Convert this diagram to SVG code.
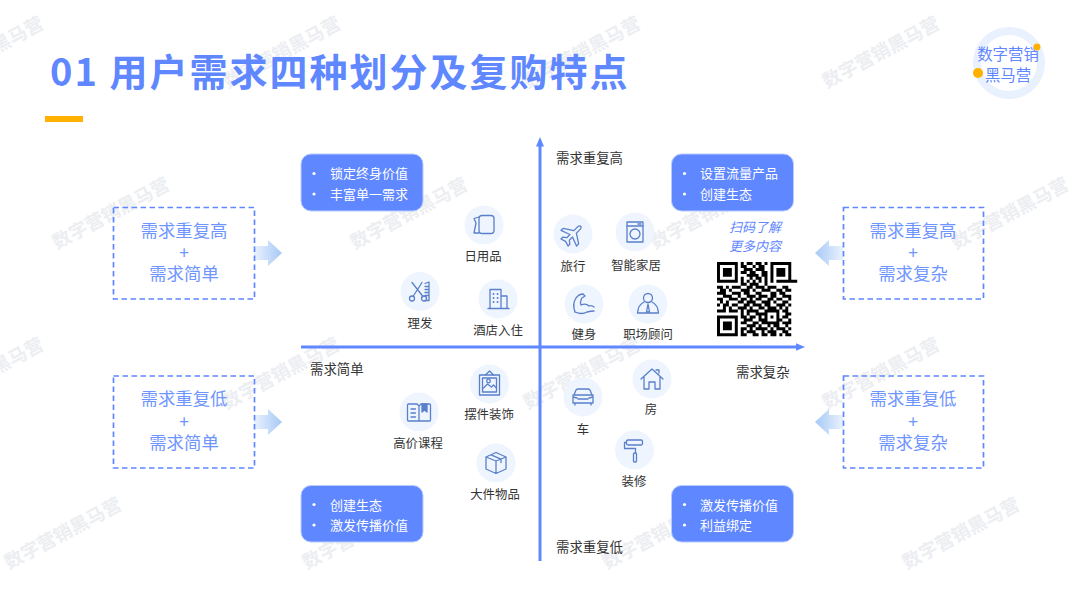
<svg xmlns="http://www.w3.org/2000/svg" width="1080" height="608" viewBox="0 0 1080 608">
<style>
text{font-family:"Noto Sans CJK SC","Noto Sans",sans-serif}
.wm{font-size:18.500px;font-weight:700;fill:#eceef2;text-anchor:middle}
.title{font-size:38px;font-weight:700;fill:#5f87ff;letter-spacing:2px}
.dash{fill:none;stroke:#5f87ff;stroke-width:1.700;stroke-dasharray:5.500 3.500}
.dt{font-size:17.400px;fill:#6f95ff;text-anchor:middle}
.blue{fill:#5f87ff;stroke:#b9ccff;stroke-width:1}
.bt{font-size:13px;fill:#fff}
.lab{font-size:12.400px;fill:#333;text-anchor:middle}
.ax{font-size:13.400px;fill:#333}
.cir{fill:#eff5fe}
.ic{fill:none;stroke:#5a7fcb;stroke-width:1.300;stroke-linecap:round;stroke-linejoin:round}
.axis{stroke:#5f87ff;stroke-width:3;fill:none}
</style>
<defs>
<marker id="head" markerUnits="userSpaceOnUse" markerWidth="10" markerHeight="9" refX="0.5" refY="4.5" orient="auto"><path d="M0 0.5L9.500 4.500L0 8.500z" fill="#5f87ff"/></marker>
<linearGradient id="gr" x1="0" x2="1" y1="0" y2="0"><stop offset="0" stop-color="#eaf2fe"/><stop offset="1" stop-color="#a6c9f6"/></linearGradient>
<linearGradient id="gl" x1="1" x2="0" y1="0" y2="0"><stop offset="0" stop-color="#eaf2fe"/><stop offset="1" stop-color="#a6c9f6"/></linearGradient>
</defs>
<rect width="1080" height="608" fill="#fff"/>
<g id="watermarks">
<text class="wm" transform="translate(-12 58) rotate(-28)">数字营销黑马营</text>
<text class="wm" transform="translate(285 58) rotate(-28)">数字营销黑马营</text>
<text class="wm" transform="translate(585 58) rotate(-28)">数字营销黑马营</text>
<text class="wm" transform="translate(884 58) rotate(-28)">数字营销黑马营</text>
<text class="wm" transform="translate(114 219) rotate(-28)">数字营销黑马营</text>
<text class="wm" transform="translate(412 219) rotate(-28)">数字营销黑马营</text>
<text class="wm" transform="translate(712 219) rotate(-28)">数字营销黑马营</text>
<text class="wm" transform="translate(1013 219) rotate(-28)">数字营销黑马营</text>
<text class="wm" transform="translate(-12 379) rotate(-28)">数字营销黑马营</text>
<text class="wm" transform="translate(284 379) rotate(-28)">数字营销黑马营</text>
<text class="wm" transform="translate(585 379) rotate(-28)">数字营销黑马营</text>
<text class="wm" transform="translate(884 379) rotate(-28)">数字营销黑马营</text>
<text class="wm" transform="translate(66 539) rotate(-28)">数字营销黑马营</text>
<text class="wm" transform="translate(364 539) rotate(-28)">数字营销黑马营</text>
<text class="wm" transform="translate(664 539) rotate(-28)">数字营销黑马营</text>
<text class="wm" transform="translate(964 539) rotate(-28)">数字营销黑马营</text>
</g>
<g id="header">
<text class="title" x="50" y="86">01 用户需求四种划分及复购特点</text>
<rect x="45" y="116" width="38" height="6" fill="#ffb000"/>
</g>
<g id="logo">
<circle cx="1009" cy="63" r="32" fill="#fff" stroke="#e9f1fe" stroke-width="8"/>
<text x="1008" y="60" font-size="15.400" fill="#5f87ff" text-anchor="middle">数字营销</text>
<text x="1008" y="81" font-size="15.400" fill="#5f87ff" text-anchor="middle">黑马营</text>
<circle cx="978" cy="73" r="5" fill="#ffb000"/>
<circle cx="1037" cy="47" r="3.400" fill="#ffb000"/>
</g>
<g id="connectors">
<line class="axis" x1="540" y1="561" x2="540" y2="146" marker-end="url(#head)"/>
<line class="axis" x1="301" y1="347" x2="796" y2="347" marker-end="url(#head)"/>
<path d="M254 246H268V240L282 253L268 266V260H254z" fill="url(#gr)"/>
<path d="M254 415H268V409L282 422L268 435V429H254z" fill="url(#gr)"/>
<path d="M843 246H829V240L815 253L829 266V260H843z" fill="url(#gl)"/>
<path d="M843 415H829V409L815 422L829 435V429H843z" fill="url(#gl)"/>
</g>
<g id="req-high-simple"><rect class="dash" x="113.500" y="207.500" width="141" height="91.500"/><text class="dt" x="184" y="237">需求重复高</text><text class="dt" x="184" y="259">+</text><text class="dt" x="184" y="280">需求简单</text></g>
<g id="req-low-simple"><rect class="dash" x="113.500" y="376" width="141" height="92"/><text class="dt" x="184" y="405">需求重复低</text><text class="dt" x="184" y="428">+</text><text class="dt" x="184" y="449">需求简单</text></g>
<g id="req-high-complex"><rect class="dash" x="843.500" y="207.500" width="140" height="91.500"/><text class="dt" x="913" y="237">需求重复高</text><text class="dt" x="913" y="259">+</text><text class="dt" x="913" y="280">需求复杂</text></g>
<g id="req-low-complex"><rect class="dash" x="843.500" y="376" width="140" height="92"/><text class="dt" x="913" y="405">需求重复低</text><text class="dt" x="913" y="428">+</text><text class="dt" x="913" y="449">需求复杂</text></g>
<g id="box-tl"><rect class="blue" x="301" y="154" width="122" height="57" rx="10"/><circle cx="314" cy="173.500" r="1.600" fill="#fff"/><circle cx="314" cy="194" r="1.600" fill="#fff"/><text class="bt" x="330" y="178">锁定终身价值</text><text class="bt" x="330" y="199">丰富单一需求</text></g>
<g id="box-tr"><rect class="blue" x="671.500" y="154" width="122" height="57" rx="10"/><circle cx="684.500" cy="173.500" r="1.600" fill="#fff"/><circle cx="684.500" cy="194" r="1.600" fill="#fff"/><text class="bt" x="700" y="178">设置流量产品</text><text class="bt" x="700" y="199">创建生态</text></g>
<g id="box-bl"><rect class="blue" x="301" y="485.500" width="122" height="56.500" rx="10"/><circle cx="314" cy="504.500" r="1.600" fill="#fff"/><circle cx="314" cy="525" r="1.600" fill="#fff"/><text class="bt" x="330" y="509.500">创建生态</text><text class="bt" x="330" y="530">激发传播价值</text></g>
<g id="box-br"><rect class="blue" x="671.500" y="485.500" width="122" height="56.500" rx="10"/><circle cx="684.500" cy="504.500" r="1.600" fill="#fff"/><circle cx="684.500" cy="525" r="1.600" fill="#fff"/><text class="bt" x="700" y="509.500">激发传播价值</text><text class="bt" x="700" y="530">利益绑定</text></g>
<g id="axis-labels">
<text class="ax" x="556" y="163">需求重复高</text>
<text class="ax" x="310" y="374">需求简单</text>
<text class="ax" x="736" y="377">需求复杂</text>
<text class="ax" x="556" y="552">需求重复低</text>
</g>
<g id="item-daily"><circle class="cir" cx="484" cy="225" r="19.500"/><g class="ic" transform="translate(484 225)"><rect x="-5" y="-9.500" width="15" height="18" rx="3"/><path d="M-5 -8L-10 -6.500L-8 -2L-10 8H-5"/></g><text class="lab" x="483" y="260.500">日用品</text></g>
<g id="item-hair"><circle class="cir" cx="420" cy="291.500" r="19.500"/><g class="ic" transform="translate(420 291.500)" stroke-width="1.500"><path d="M-8 -9L3 5M2 -9L-7 5"/><circle cx="-8" cy="7" r="2.500"/><circle cx="4" cy="7" r="2.500"/><path d="M5 -8L9 -9.500V9H5M5 -5H9M5 -2H9M5 1H9M5 4H9"/></g><text class="lab" x="420" y="327.500">理发</text></g>
<g id="item-hotel"><circle class="cir" cx="498" cy="299" r="19.500"/><g class="ic" transform="translate(498 299)"><path d="M-10 9.500H11M-8 9.500V-9.500H3V9.500M3 -3H9V9.500"/><path d="M-4.500 -5h.1M-.5 -5h.1M-4.500 -1h.1M-.5 -1h.1M-4.500 3h.1M-.5 3h.1" stroke-width="1.800"/></g><text class="lab" x="498" y="334.500">酒店入住</text></g>
<g id="item-travel"><circle class="cir" cx="573" cy="234" r="19.500"/><g class="ic" transform="translate(573 234) rotate(45)"><path d="M-1.800 -9Q0 -13 1.800 -9V-3L11 3V6L1.800 2.500V7L5 9.500V12L0 10.500L-5 12V9.500L-1.800 7V2.500L-11 6V3L-1.800 -3z"/></g><text class="lab" x="573" y="270.500">旅行</text></g>
<g id="item-smart"><circle class="cir" cx="635" cy="232" r="19.500"/><g class="ic" transform="translate(635 232)" stroke-width="1.500"><rect x="-8" y="-10" width="16" height="20"/><path d="M-8 -6H8M3 -8H6"/><circle cx="0" cy="2" r="5"/></g><text class="lab" x="636" y="269.500">智能家居</text></g>
<g id="item-fitness"><circle class="cir" cx="584" cy="304" r="19.500"/><g class="ic" transform="translate(584 304)"><path d="M-9 8Q-12 0 -8 -6Q-5 -10 -1 -10L1 -8L-2 -6L-3 -4Q-4 -1 -3 1Q2 -1 5 2Q8 1 10 3"/><path d="M-9 8Q-2 11 3 8Q7 7 10 7"/></g><text class="lab" x="584" y="338.500">健身</text></g>
<g id="item-career"><circle class="cir" cx="648" cy="304" r="19.500"/><g class="ic" transform="translate(648 304)"><circle cx="0" cy="-6" r="4.500"/><path d="M-4 -2Q-10 1 -10.500 9H10.500Q10 1 4 -2"/><path d="M0 0L-1.500 8H1.500z"/></g><text class="lab" x="648" y="338.500">职场顾问</text></g>
<g id="item-course"><circle class="cir" cx="419" cy="412" r="19.500"/><g class="ic" transform="translate(419 412)" stroke-width="1.500"><path d="M0 9H-10.500Q-11.500 9 -11.500 8V-7Q-11.500 -8 -10.500 -8H-2L0 -6L2 -8H10.500Q11.500 -8 11.500 -7V8Q11.500 9 10.500 9H0V-6"/><path d="M-8 -3H-3.500M-8 1H-3.500M-8 5H-3.500"/><path d="M3 -8V0L5.500 -2L8 0V-8z" fill="#5a7fcb"/></g><text class="lab" x="418" y="447.500">高价课程</text></g>
<g id="item-decor"><circle class="cir" cx="489.500" cy="384" r="19.500"/><g class="ic" transform="translate(489.500 384)" stroke-width="1.100"><rect x="-10" y="-9" width="20" height="20"/><rect x="-7" y="-6" width="14" height="14"/><path d="M-6 4L-2 0L2 3L4 1L7 4M-4 -9L0 -13L4 -9"/><circle cx="-1" cy="-3" r="1.800"/></g><text class="lab" x="489" y="418.500">摆件装饰</text></g>
<g id="item-large"><circle class="cir" cx="496" cy="463" r="19.500"/><g class="ic" transform="translate(496 463)" stroke-width="1.500"><path d="M0 -10.500L10 -6V6L0 10.500L-10 6V-6zM-10 -6L0 -2L10 -6M0 -2V10.500M-5 -8.200L5 -3.800V-.5"/></g><text class="lab" x="495" y="498.500">大件物品</text></g>
<g id="item-house"><circle class="cir" cx="652" cy="379" r="19.500"/><g class="ic" transform="translate(652 379)" stroke-width="1.500"><path d="M-11 0L0 -10L11 0M-8 -2V10H-3V3H3V10H8V-2M7 -6V-9H4"/></g><text class="lab" x="651" y="413.500">房</text></g>
<g id="item-car"><circle class="cir" cx="583" cy="397" r="19.500"/><g class="ic" transform="translate(583 397)" stroke-width="1.500"><path d="M-9 -2L-7 -7Q-6 -8 -5 -8H5Q6 -8 7 -7L9 -2M-10 -2H10V6H-10zM-8 6V8M8 6V8M-5 2H5M-10 0L-6 1M10 0L6 1"/></g><text class="lab" x="583" y="433.500">车</text></g>
<g id="item-reno"><circle class="cir" cx="634.500" cy="450" r="19.500"/><g class="ic" transform="translate(634.500 450)" stroke-width="1.500"><rect x="-8" y="-10" width="16" height="5" rx="1.500"/><path d="M-8 -7.500H-10V-1.500H1V3"/><rect x="-1" y="3" width="3" height="9" rx="1"/></g><text class="lab" x="634" y="485.500">装修</text></g>
<g id="qr-block">
<text x="755" y="232" font-size="13" font-style="italic" fill="#5f87ff" text-anchor="middle">扫码了解</text>
<text x="755" y="251" font-size="13" font-style="italic" fill="#5f87ff" text-anchor="middle">更多内容</text>
<path transform="translate(717 262) scale(2.970)" fill="none" stroke="#000" stroke-width="1" d="
M0 .5h7m1 0h1m1 0h2m1 0h2m1 0h1m1 0h7
M0 1.500h1m5 0h1m1 0h2m2 0h1m1 0h2m2 0h1m5 0h1
M0 2.500h1m1 0h3m1 0h1m2 0h3m1 0h3m2 0h1m1 0h3m1 0h1
M0 3.500h1m1 0h3m1 0h1m1 0h2m1 0h2m2 0h2m1 0h1m1 0h3m1 0h1
M0 4.500h1m1 0h3m1 0h1m3 0h4m1 0h2m1 0h1m1 0h3m1 0h1
M0 5.500h1m5 0h1m1 0h1m2 0h1m1 0h2m1 0h1m1 0h1m5 0h1
M0 6.500h7m1 0h1m1 0h1m1 0h1m1 0h1m1 0h1m1 0h1m1 0h7
M8 7.500h2m1 0h3m2 0h1
M0 8.500h2m1 0h1m1 0h3m2 0h2m1 0h3m1 0h3m2 0h2
M1 9.500h2m1 0h1m3 0h3m1 0h1m2 0h3m2 0h2m1 0h2
M0 10.500h3m2 0h3m1 0h2m2 0h2m3 0h2m1 0h2
M2 11.500h3m2 0h1m2 0h3m1 0h3m1 0h2m2 0h3
M0 12.500h2m2 0h3m1 0h2m1 0h1m1 0h2m2 0h2m1 0h2m2 0h1
M1 13.500h1m1 0h1m3 0h2m1 0h3m2 0h3m1 0h1m2 0h2
M0 14.500h1m1 0h2m1 0h2m2 0h2m1 0h3m1 0h2m2 0h3m1 0h1
M2 15.500h1m1 0h1m2 0h3m1 0h1m2 0h2m1 0h3m1 0h1m1 0h1
M0 16.500h3m1 0h3m1 0h1m1 0h4m2 0h5m1 0h2
M8 17.500h1m1 0h1m2 0h4m3 0h1m2 0h2
M0 18.500h7m1 0h2m1 0h2m1 0h1m1 0h1m1 0h1m1 0h1m1 0h2
M0 19.500h1m5 0h1m2 0h3m2 0h3m3 0h2m2 0h1
M0 20.500h1m1 0h3m1 0h1m1 0h2m2 0h2m1 0h6m1 0h3
M0 21.500h1m1 0h3m1 0h1m3 0h3m1 0h1m2 0h1m1 0h2m2 0h1
M0 22.500h1m1 0h3m1 0h1m1 0h2m1 0h1m1 0h4m1 0h1m1 0h3m1 0h1
M0 23.500h1m5 0h1m1 0h1m1 0h3m2 0h1m1 0h3m2 0h2
M0 24.500h7m1 0h2m2 0h2m1 0h2m1 0h2m1 0h1m1 0h2"/>
</g>
</svg>
